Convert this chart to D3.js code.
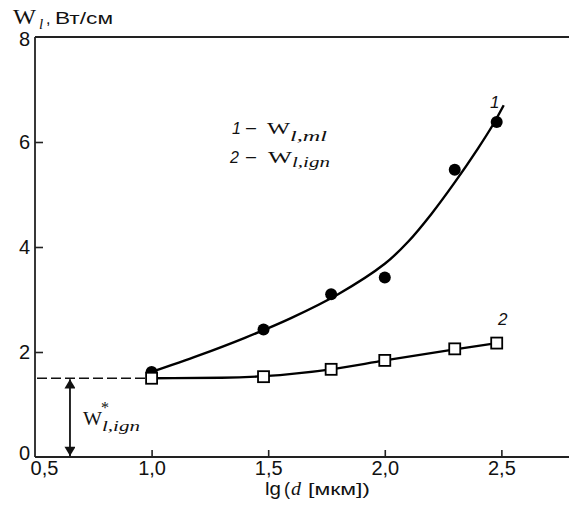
<!DOCTYPE html>
<html>
<head>
<meta charset="utf-8">
<script src="https://cdn.jsdelivr.net/npm/d3@7"></script>
<style>
  body { margin: 0; background: #fff; }
  .tick text { font-family: "Liberation Sans", Arial, sans-serif; font-size: 20px; fill: #111; }
  .tick line { stroke: #222; stroke-width: 1.6; }
  .domain { display: none; }
</style>
</head>
<body>
<div id="chart"></div>
<script>
// measured points
const lgD = [1.0, 1.48, 1.77, 2.0, 2.3, 2.48];
const wMl = [1.62, 2.43, 3.1, 3.42, 5.47, 6.38];
const wIgn = [1.5, 1.53, 1.67, 1.84, 2.06, 2.17];

// hand-drawn fit curves
const fit1X = [1.0, 1.2, 1.4, 1.6, 1.8, 2.0, 2.1, 2.2, 2.3, 2.4, 2.46, 2.51];
const fit1Y = [1.62, 1.93, 2.27, 2.65, 3.1, 3.68, 4.1, 4.63, 5.23, 5.88, 6.3, 6.7];
const fit2X = [1.0, 1.3, 1.48, 1.77, 2.0, 2.3, 2.48];
const fit2Y = [1.5, 1.51, 1.54, 1.67, 1.84, 2.05, 2.17];

const wIgnStar = 1.5;
const arrowX = 0.65;

const xTicks = [0.5, 1.0, 1.5, 2.0, 2.5];
const yTicks = [0, 2, 4, 6, 8];

const width = 569, height = 511;
const margin = {top: 37, left: 35, bottom: 54};

const svg = d3.select('#chart').append('svg')
    .attr('width', width)
    .attr('height', height);

const x = d3.scaleLinear().domain([0.5, 2.79]).range([margin.left, width]);
const y = d3.scaleLinear().domain([0, 8]).range([height - margin.bottom, margin.top]);

const fmt = d => d3.format('.1f')(d).replace('.', ',');

// axes (ticks pointing inward)
const xAxis = svg.append('g')
    .attr('transform', `translate(0,${y(0)})`)
    .call(d3.axisBottom(x).tickValues(xTicks).tickSize(-7).tickPadding(4).tickFormat(fmt));
xAxis.selectAll('.tick').filter(d => d === 0.5).select('line').remove();
xAxis.selectAll('.tick').filter(d => d === 0.5).select('text').attr('x', 9);

const yAxis = svg.append('g')
    .attr('transform', `translate(${x(0.5)},0)`)
    .call(d3.axisLeft(y).tickValues(yTicks).tickSize(-8).tickPadding(5).tickFormat(d3.format('d')));
yAxis.selectAll('.tick').filter(d => d === 0 || d === 8).select('line').remove();
yAxis.selectAll('.tick').filter(d => d === 0).select('text').attr('y', -4);
yAxis.selectAll('.tick').filter(d => d === 8).select('text').attr('y', 2);

// frame lines: left, bottom, top
const frame = svg.append('g').attr('stroke', '#222').attr('stroke-width', 1.8);
frame.append('line').attr('x1', x(0.5)).attr('x2', x(0.5)).attr('y1', y(8)).attr('y2', y(0));
frame.append('line').attr('x1', x(0.5)).attr('x2', width).attr('y1', y(0)).attr('y2', y(0));
frame.append('line').attr('x1', x(0.5)).attr('x2', width).attr('y1', y(8)).attr('y2', y(8));

// dashed threshold line
svg.append('line')
    .attr('x1', x(0.5) + 2).attr('x2', x(1.0))
    .attr('y1', y(wIgnStar)).attr('y2', y(wIgnStar))
    .attr('stroke', '#111').attr('stroke-width', 1.6)
    .attr('stroke-dasharray', '10,4');

// double arrow
const defs = svg.append('defs');
defs.append('marker')
    .attr('id', 'arr')
    .attr('viewBox', '0 0 10 12')
    .attr('refX', 10).attr('refY', 6)
    .attr('markerWidth', 12).attr('markerHeight', 11)
    .attr('markerUnits', 'userSpaceOnUse')
    .attr('orient', 'auto-start-reverse')
    .append('path').attr('d', 'M0,0 L10,6 L0,12 Z').attr('fill', '#111');

svg.append('line')
    .attr('x1', x(arrowX)).attr('x2', x(arrowX))
    .attr('y1', y(wIgnStar) + 1).attr('y2', y(0) - 1)
    .attr('stroke', '#111').attr('stroke-width', 1.8)
    .attr('marker-start', 'url(#arr)')
    .attr('marker-end', 'url(#arr)');

// fit curves
const line = d3.line()
    .x(d => x(d[0]))
    .y(d => y(d[1]))
    .curve(d3.curveCatmullRom.alpha(0.5));

svg.append('path')
    .datum(d3.zip(fit1X, fit1Y))
    .attr('d', line)
    .attr('fill', 'none').attr('stroke', '#000').attr('stroke-width', 2.4);

svg.append('path')
    .datum(d3.zip(fit2X, fit2Y))
    .attr('d', line.curve(d3.curveMonotoneX))
    .attr('fill', 'none').attr('stroke', '#000').attr('stroke-width', 2.4);

// markers
svg.selectAll('.pt-ml')
    .data(d3.zip(lgD, wMl))
  .join('circle')
    .attr('class', 'pt-ml')
    .attr('cx', d => x(d[0]))
    .attr('cy', d => y(d[1]))
    .attr('r', 6)
    .attr('fill', '#000');

svg.selectAll('.pt-ign')
    .data(d3.zip(lgD, wIgn))
  .join('rect')
    .attr('class', 'pt-ign')
    .attr('x', d => x(d[0]) - 5.5)
    .attr('y', d => y(d[1]) - 5.5)
    .attr('width', 11)
    .attr('height', 11)
    .attr('fill', '#fff')
    .attr('stroke', '#000')
    .attr('stroke-width', 1.8);

// text helpers
const sans = '"Liberation Sans", Arial, sans-serif';
const serif = '"Liberation Serif", "Times New Roman", serif';

function txt(str, px, py, opts) {
    const t = svg.append('text')
        .attr('x', px).attr('y', py)
        .attr('font-family', opts.family || sans)
        .attr('font-size', opts.size || 16)
        .attr('font-style', opts.italic ? 'italic' : 'normal')
        .attr('fill', '#111')
        .text(str);
    if (opts.len) t.attr('textLength', opts.len).attr('lengthAdjust', 'spacingAndGlyphs');
    if (opts.anchor) t.attr('text-anchor', opts.anchor);
    return t;
}

// y axis title
txt('W', 13, 24, {family: serif, size: 20, len: 23});
txt('l', 39, 29, {family: serif, size: 15, italic: true});
txt(',', 46, 24, {size: 16});
txt('Вт/см', 55, 24, {size: 16, len: 58});

// x axis title
txt('lg', 265, 495, {size: 18, len: 16});
txt('(', 284, 495, {size: 18});
txt('d', 291, 495, {family: serif, size: 19, italic: true, len: 10});
txt('[мкм])', 308, 495, {size: 17, len: 62});

// legend
txt('1', 232, 134, {size: 16, italic: true});
txt('–', 246, 133, {size: 16, len: 10});
txt('W', 267, 134, {family: serif, size: 16, len: 23});
txt('l,ml', 290, 141, {family: serif, size: 14, italic: true, len: 37});

txt('2', 230, 163, {size: 16, italic: true});
txt('–', 246, 162, {size: 16, len: 10});
txt('W', 268, 163, {family: serif, size: 16, len: 24});
txt('l,ign', 292, 167, {family: serif, size: 14, italic: true, len: 38});

// curve labels
txt('1', 490, 108, {size: 17, italic: true});
txt('2', 498, 325, {size: 17, italic: true});

// threshold label
txt('W', 83, 425, {family: serif, size: 19, len: 19});
txt('*', 101, 413, {family: serif, size: 16});
txt('l,ign', 102, 431, {family: serif, size: 15, italic: true, len: 38});
</script>
</body>
</html>
